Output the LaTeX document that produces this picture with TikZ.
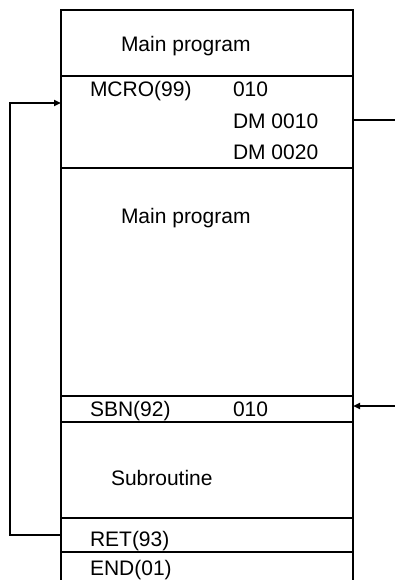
\documentclass[tikz,border=0pt]{standalone}
\usepackage{fontspec}
\setmainfont{Liberation Sans}
\usepackage{tikz}
\usetikzlibrary{arrows.meta,positioning}
\tikzset{
  cell/.style={rectangle,draw,line width=2pt,minimum width=292pt,inner sep=0pt,outer sep=0pt},
  lbl/.style={anchor=base west,inner sep=0pt,outer sep=0pt},
}

\begin{document}
\begin{tikzpicture}[x=1pt,y=-1pt,font=\fontsize{21}{25}\selectfont,node distance=0pt,
  ar/.style={-{Triangle[length=7pt,width=6pt]},line width=2pt},
  ln/.style={line width=2pt}]
  \useasboundingbox (0,0) rectangle (395,580);
  % program stack
  \node[cell,minimum height=66pt,anchor=north west] (top) at (61,10) {};
  \node[cell,minimum height=92pt,below=of top] (mcro) {};
  \node[cell,minimum height=228pt,below=of mcro] (main) {};
  \node[cell,minimum height=26pt,below=of main] (sbn) {};
  \node[cell,minimum height=96pt,below=of sbn] (sub) {};
  \node[cell,minimum height=34pt,below=of sub] (ret) {};
  \node[rectangle,minimum width=292pt,minimum height=28pt,inner sep=0pt,outer sep=0pt,below=of ret] (endc) {};
  \draw[ln] (endc.north west) -- (endc.south west);
  \draw[ln] (endc.north east) -- (endc.south east);
  % texts
  \node[lbl] (mp1) at (121,51.7) {Main program};
  \node[lbl] (mc) at (90,97) {MCRO(99)};
  \node[lbl] (mc1) at (233,97) {010};
  \node[lbl] (mc2) at (233,128.5) {DM 0010};
  \node[lbl] (mc3) at (233,160) {DM 0020};
  \node[lbl] (mp2) at (121,223.3) {Main program};
  \node[lbl] (sb) at (90,416.7) {SBN(92)};
  \node[lbl] (sb1) at (233,416.7) {010};
  \node[lbl] (sr) at (111,485.7) {Subroutine};
  \node[lbl] (rt) at (90,546.7) {RET(93)};
  \node[lbl] (en) at (90,575.7) {END(01)};
  % call and return
  \coordinate (callin) at (61,103);
  \coordinate (callout) at (395,120);
  \coordinate (jump) at (395,406);
  \draw[ar] (ret.west) -- ++(-51,0) |- (mcro.west |- callin);
  \draw[ln] (mcro.east |- callout) -- (callout);
  \draw[ar] (jump) -- (sbn.east |- jump);
\end{tikzpicture}
\end{document}
